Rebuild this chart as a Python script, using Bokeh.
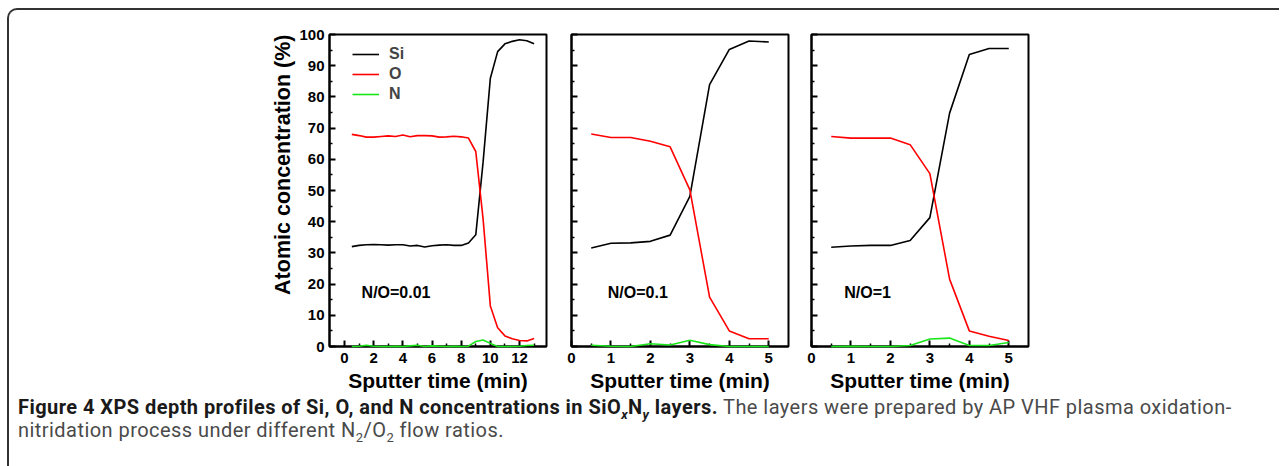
from bokeh.plotting import figure
from bokeh.models import FixedTicker, Label, Legend, LegendItem, Div, Spacer, Range1d, Title
from bokeh.layouts import row, column
from bokeh.embed import file_html
from bokeh.resources import INLINE

# ---------------- data ----------------
time_a = [0.5, 1.0, 1.5, 2.0, 2.5, 3.0, 3.5, 4.0, 4.5, 5.0, 5.5, 6.0, 6.5,
          7.0, 7.5, 8.0, 8.5, 9.0, 9.5, 10.0, 10.5, 11.0, 11.5, 12.0, 12.5, 13.0]
si_a = [32.0, 32.4, 32.6, 32.7, 32.6, 32.5, 32.6, 32.6, 32.2, 32.4, 31.9, 32.3, 32.5,
        32.6, 32.4, 32.4, 33.2, 35.8, 59.0, 86.0, 94.5, 97.0, 97.8, 98.3, 98.0, 97.0]
o_a = [68.0, 67.6, 67.1, 67.1, 67.3, 67.5, 67.3, 67.8, 67.2, 67.6, 67.6, 67.5, 67.1,
       67.2, 67.4, 67.2, 66.8, 62.5, 41.0, 13.0, 6.0, 3.4, 2.5, 1.9, 1.8, 2.6]
n_a = [0.0, 0.1, 0.4, 0.1, 0.0, 0.0, 0.1, 0.0, 0.2, 0.4, 0.0, 0.2, 0.1,
       0.0, 0.1, 0.0, 0.1, 1.6, 2.1, 1.0, 0.0, 0.0, 0.0, 0.1, 0.3, 0.4]

time_b = [0.5, 1.0, 1.5, 2.0, 2.5, 3.0, 3.5, 4.0, 4.5, 5.0]
si_b = [31.6, 33.1, 33.2, 33.7, 35.7, 48.1, 83.9, 95.2, 97.9, 97.6]
o_b = [68.1, 67.0, 67.0, 65.8, 64.0, 50.2, 15.8, 5.0, 2.5, 2.5]
n_b = [0.4, 0.1, 0.0, 0.9, 0.5, 2.0, 0.6, 0.0, 0.0, 0.0]

time_c = [0.5, 1.0, 1.5, 2.0, 2.5, 3.0, 3.5, 4.0, 4.5, 5.0]
si_c = [31.8, 32.2, 32.4, 32.4, 34.0, 41.3, 74.8, 93.6, 95.5, 95.5]
o_c = [67.3, 66.8, 66.8, 66.8, 64.7, 55.4, 21.6, 5.0, 3.3, 1.9]
n_c = [0.0, 0.1, 0.0, 0.0, 0.3, 2.4, 2.7, 0.3, 0.3, 1.3]

panel_tags = ["N/O=0.01", "N/O=0.1", "N/O=1"]
series_names = ["Si", "O", "N"]
series_colors = ["#000000", "#ff0000", "#19e619"]

FONT = "Liberation Sans"
FRAME_W = 217
FRAME_H = 312
TOP = 24
BOTTOM = 50


def make_panel(xs, ys_list, x_range, xticks, xminor, tag, tag_x,
               first, mbl, mbr):
    p = figure(width=mbl + FRAME_W + mbr, height=TOP + FRAME_H + BOTTOM,
               x_range=Range1d(*x_range), y_range=Range1d(0, 100),
               output_backend="svg", toolbar_location=None,
               min_border_left=mbl, min_border_right=mbr,
               min_border_top=TOP, min_border_bottom=BOTTOM)
    p.grid.visible = False
    p.outline_line_color = "#000000"
    p.outline_line_width = 2
    p.background_fill_color = "white"
    p.border_fill_color = None

    renderers = []
    for ys, col in zip(ys_list, series_colors):
        r = p.line(xs, ys, line_color=col, line_width=1.6, level="overlay")
        renderers.append(r)

    for ax in (p.xaxis[0], p.yaxis[0]):
        ax.axis_line_width = 2
        ax.axis_line_color = "#000000"
        ax.major_tick_in = 6
        ax.major_tick_out = 0
        ax.minor_tick_in = 3
        ax.minor_tick_out = 0
        ax.major_tick_line_width = 2
        ax.minor_tick_line_width = 1.5
        ax.major_label_text_font = FONT
        ax.major_label_text_font_style = "bold"
        ax.major_label_text_font_size = "15px"
        ax.major_label_text_color = "#000000"
        ax.axis_label_text_font = FONT
        ax.axis_label_text_font_style = "bold"
        ax.axis_label_text_color = "#000000"

    p.xaxis.ticker = FixedTicker(ticks=xticks, minor_ticks=xminor)
    p.xaxis.axis_label = "Sputter time (min)"
    p.xaxis.axis_label_text_font_size = "21px"
    p.xaxis.major_label_standoff = 6
    p.xaxis.axis_label_standoff = 3

    yt = [0, 10, 20, 30, 40, 50, 60, 70, 80, 90, 100]
    p.yaxis.ticker = FixedTicker(ticks=yt, minor_ticks=[5, 15, 25, 35, 45, 55, 65, 75, 85, 95])
    if first:
        p.yaxis.major_label_standoff = 5
        # y-axis title, aligned to the top of the frame as in the original figure
        p.add_layout(Title(text="Atomic concentration (%)", align="right",
                           offset=0, standoff=4,
                           text_font=FONT, text_font_style="bold",
                           text_font_size="21.5px", text_color="#000000"), "left")
        legend = Legend(items=[LegendItem(label=nm, renderers=[r])
                               for nm, r in zip(series_names, renderers)],
                        location=(23, 242), orientation="vertical",
                        padding=0, margin=0, spacing=0,
                        glyph_width=27, glyph_height=20, label_height=20,
                        label_standoff=10,
                        label_text_font=FONT, label_text_font_style="bold",
                        label_text_font_size="16px",
                        border_line_alpha=0, background_fill_alpha=0)
        p.add_layout(legend)
    else:
        p.yaxis.major_label_overrides = {t: "" for t in yt}
        p.yaxis.major_label_standoff = 0

    p.add_layout(Label(x=tag_x, y=17.3, text=tag, text_font=FONT,
                       text_font_style="bold", text_font_size="16px",
                       text_baseline="middle", text_align="left",
                       text_color="#000000"))
    return p


p1 = make_panel(time_a, [si_a, o_a, n_a], (-1.03, 13.85),
                [0, 2, 4, 6, 8, 10, 12], [1, 3, 5, 7, 9, 11, 13],
                panel_tags[0], 1.17, True, 80, 12)
p2 = make_panel(time_b, [si_b, o_b, n_b], (0, 5.5),
                [0, 1, 2, 3, 4, 5], [0.5, 1.5, 2.5, 3.5, 4.5],
                panel_tags[1], 0.92, False, 13, 10)
p3 = make_panel(time_c, [si_c, o_c, n_c], (0, 5.5),
                [0, 1, 2, 3, 4, 5], [0.5, 1.5, 2.5, 3.5, 4.5],
                panel_tags[2], 0.83, False, 13, 15)

SUB = 'style="font-size:13px;line-height:0;vertical-align:baseline;position:relative;top:5px"'
caption = Div(text=(
    '<span style="font-weight:bold;color:#1a1a1a">Figure 4 XPS depth profiles of Si, O, and N '
    f'concentrations in SiO<sub {SUB}><i>x</i></sub>N<sub {SUB}><i>y</i></sub> layers.</span> '
    'The layers were prepared by AP VHF plasma oxidation-<br>'
    f'nitridation process under different N<sub {SUB}>2</sub>/O<sub {SUB}>2</sub> flow ratios.'),
    width=1250, margin=(0, 0, 0, 9),
    styles={"font-family": "Roboto", "font-size": "20px",
            "letter-spacing": "0.45px",
            "line-height": "23px", "color": "#4a4a4a"})

top_row = row(Spacer(width=240, height=TOP + FRAME_H + BOTTOM), p1, p2, p3)
layout = column(top_row, caption, width=1272,
                styles={"border-top": "2px solid #333333",
                        "border-left": "2px solid #333333",
                        "border-top-left-radius": "10px",
                        "margin-top": "8px", "margin-left": "7px",
                        "min-height": "460px"})

open("out.html", "w").write(file_html(layout, INLINE))
